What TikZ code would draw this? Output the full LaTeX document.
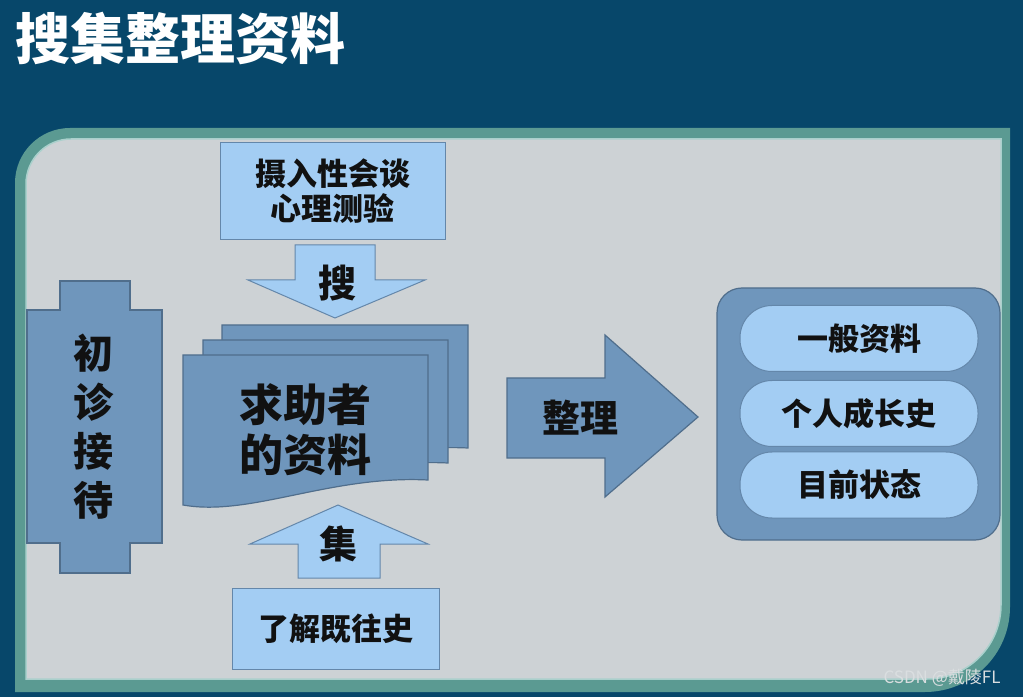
\documentclass[tikz,border=0pt]{standalone}
\definecolor{bgnavy}{RGB}{7,71,106}
\definecolor{panelteal}{RGB}{91,154,146}
\definecolor{panelline}{RGB}{170,208,204}
\definecolor{panelgray}{RGB}{205,210,213}
\definecolor{midblue}{RGB}{111,150,188}
\definecolor{midedge}{RGB}{80,110,140}
\definecolor{lightblue}{RGB}{163,205,243}
\definecolor{lightedge}{RGB}{100,135,170}
\definecolor{inkblack}{RGB}{17,17,17}
\definecolor{markgray}{RGB}{218,222,224}
\usepackage{fontspec}
\newfontfamily\cjk{Noto Sans CJK SC}
\usepackage{tikz}
\usetikzlibrary{positioning, calc}
\tikzset{
  darkbox/.style={fill=midblue, draw=midedge, line width=1.2pt},
  lightbox/.style={fill=lightblue, draw=lightedge, line width=1pt},
  pill/.style={lightbox, rounded corners=32pt, minimum width=238pt, minimum height=66pt,
    inner sep=0pt, font=\cjk\bfseries\fontsize{31}{36}\selectfont, text=inkblack},
  boxlabel/.style={font=\cjk\bfseries\fontsize{31}{35}\selectfont, text=inkblack, align=center}
}

\begin{document}
\begin{tikzpicture}[x=1pt, y=1pt]
  \useasboundingbox (0,0) rectangle (1023,697);
  % Background
  \fill[bgnavy] (0,0) rectangle (1023,697);
  \node[font=\cjk\bfseries\fontsize{55}{60}\selectfont, text=white, anchor=west, inner sep=0pt] (title) at (15,659) {搜集整理资料};

  % Panel: teal rim, then grey face
  \fill[panelteal] (15,5) -- (15,514) arc[start angle=180, end angle=90, radius=55]
    -- (1010,569) -- (1010,90) arc[start angle=0, end angle=-90, radius=85] -- cycle;
  \filldraw[fill=panelgray, draw=panelline, line width=1.5pt] (26,18) -- (26,513)
    arc[start angle=180, end angle=90, radius=45]
    -- (1001,558) -- (1001,92) arc[start angle=0, end angle=-90, radius=74] -- cycle;

  % Left column (first contact)
  \filldraw[darkbox] (27,154) -- (60,154) -- (60,124) -- (130,124) -- (130,154) -- (162,154)
    -- (162,387) -- (130,387) -- (130,416) -- (60,416) -- (60,387) -- (27,387) -- cycle;
  \node[font=\cjk\bfseries\fontsize{40}{49}\selectfont, text=inkblack, align=center] (intake) at (93,270) {初\\诊\\接\\待};

  % Top box and down arrow
  \node[lightbox, boxlabel, minimum width=225pt, minimum height=97pt, inner sep=0pt] (probe) at (332.5,505.5) {摄入性会谈\\心理测验};
  \filldraw[lightbox] (295,452) -- (375,452) -- (375,417) -- (425,417) -- (335,379)
    -- (248,417) -- (295,417) -- cycle;
  \node[font=\cjk\bfseries\fontsize{38}{42}\selectfont, text=inkblack] (sou) at (337,414) {搜};

  % Stack of pages
  % Back page
  \filldraw[darkbox] (222,372) -- (468,372) -- (468,249) .. controls (370,254) and (300,210) .. (222,222) -- cycle;
  % Middle page
  \filldraw[darkbox] (203,357) -- (448,357) -- (448,234) .. controls (350,239) and (280,195) .. (203,207) -- cycle;
  % Front page
  \filldraw[darkbox] (183,342) -- (428,342) -- (428,217) .. controls (330,222) and (250,180) .. (183,192) -- cycle;
  \node[font=\cjk\bfseries\fontsize{44}{50}\selectfont, text=inkblack, align=center] (clientdata) at (305,267) {求助者\\的资料};

  % Up arrow and bottom box
  \filldraw[lightbox] (298,119) -- (380,119) -- (380,153) -- (428,153) -- (338,192)
    -- (250,153) -- (298,153) -- cycle;
  \node[font=\cjk\bfseries\fontsize{38}{42}\selectfont, text=inkblack] (ji) at (338,153) {集};
  \node[lightbox, boxlabel, minimum width=207pt, minimum height=81pt, inner sep=0pt] (history) at (335.5,68.5) {了解既往史};

  % Right arrow
  \filldraw[darkbox] (507,239) -- (605,239) -- (605,200) -- (698,280) -- (605,362)
    -- (605,319) -- (507,319) -- cycle;
  \node[font=\cjk\bfseries\fontsize{38}{42}\selectfont, text=inkblack] (sort) at (580,279) {整理};

  % Result container
  \filldraw[darkbox, rounded corners=25pt] (717,157) rectangle (1000,409);
  \node[pill] (general) at (859,358.5) {一般资料};
  \node[pill] (growth) at (859,283.5) {个人成长史};
  \node[pill] (present) at (859,212) {目前状态};

  % Watermark
  \node[font=\cjk\fontsize{17}{20}\selectfont, text=markgray] (mark) at (942,19) {CSDN @戴陵FL};
\end{tikzpicture}
\end{document}
